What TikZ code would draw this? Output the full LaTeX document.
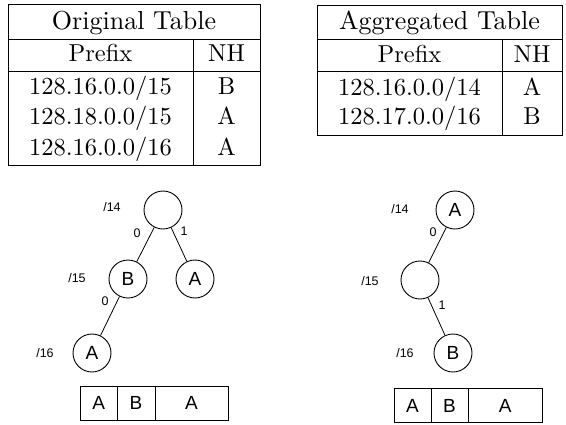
\documentclass[tikz,border=0pt]{standalone}
\usepackage{fontspec}
\newfontfamily\helv{Liberation Sans}
\newfontfamily\cmten{lmroman10-regular.otf}
\begin{document}
\begin{tikzpicture}[x=1pt,y=-1pt,
  rule/.style={line width=1pt},
  tabtext/.style={font=\cmten\fontsize{24.5}{28}\selectfont, inner sep=0pt, anchor=base},
  tabtitle/.style={font=\cmten\fontsize{26}{30}\selectfont, inner sep=0pt, anchor=base},
  trienode/.style={draw, circle, minimum size=38pt, inner sep=0pt, line width=0.9pt,
    font=\helv\fontsize{19}{22}\selectfont},
  lvl/.style={font=\helv\fontsize{12.5}{14}\selectfont, inner sep=0pt},
  bit/.style={font=\helv\fontsize{12.5}{14}\selectfont, inner sep=0pt},
  cell/.style={font=\helv\fontsize{19}{22}\selectfont, inner sep=0pt},
  edge/.style={line width=0.8pt},
  arr/.style={line width=0.8pt}]
\useasboundingbox (0,0) rectangle (566,424);

% ---- Original table ----
\draw[rule] (8,4) rectangle (260,165);
\draw[rule] (8,39) -- (260,39);
\draw[rule] (8,71) -- (260,71);
\draw[rule] (193,39) -- (193,165);
\node[tabtitle] (ot) at (134,29) {Original Table};
\node[tabtext] (op) at (100.5,61.7) {Prefix};
\node[tabtext] (on) at (226.5,61.7) {NH};
\node[tabtext] (o1p) at (100.5,94.3) {128.16.0.0/15};
\node[tabtext] (o1n) at (226.5,94.3) {B};
\node[tabtext] (o2p) at (100.5,124.5) {128.18.0.0/15};
\node[tabtext] (o2n) at (226.5,124.5) {A};
\node[tabtext] (o3p) at (100.5,155.7) {128.16.0.0/16};
\node[tabtext] (o3n) at (226.5,155.7) {A};

% ---- Aggregated table ----
\draw[rule] (317,5) rectangle (562,135);
\draw[rule] (317,39) -- (562,39);
\draw[rule] (317,71) -- (562,71);
\draw[rule] (502,39) -- (502,135);
\node[tabtitle] (at) at (439.5,29) {Aggregated Table};
\node[tabtext] (ap) at (409.5,62) {Prefix};
\node[tabtext] (an) at (532,62) {NH};
\node[tabtext] (a1p) at (409.5,95) {128.16.0.0/14};
\node[tabtext] (a1n) at (532,95) {A};
\node[tabtext] (a2p) at (409.5,124.5) {128.17.0.0/16};
\node[tabtext] (a2n) at (532,124.5) {B};

% ---- Original trie ----
\node[trienode] (l14) at (163,210) {};
\node[trienode] (l15) at (128,279) {B};
\node[trienode] (r15) at (195,279) {A};
\node[trienode] (l16) at (92,353) {A};
\draw[edge] (l14) -- (l15);
\draw[edge] (l14) -- (r15);
\draw[edge] (l15) -- (l16);
\node[lvl] (ll14) at (112,207) {/14};
\node[lvl] (ll15) at (77,278) {/15};
\node[lvl] (ll16) at (45,353) {/16};
\node[bit] (lb0) at (137,233) {0};
\node[bit] (lb1) at (184,231) {1};
\node[bit] (lb2) at (105,301) {0};

% ---- Aggregated trie ----
\node[trienode] (m14) at (455,210) {A};
\node[trienode] (m15) at (420,280) {};
\node[trienode] (m16) at (453,353) {B};
\draw[edge] (m14) -- (m15);
\draw[edge] (m15) -- (m16);
\node[lvl] (ml14) at (400,209) {/14};
\node[lvl] (ml15) at (370,281) {/15};
\node[lvl] (ml16) at (405,353) {/16};
\node[bit] (mb0) at (433,232) {0};
\node[bit] (mb1) at (442,305) {1};

% ---- Expanded arrays ----
\draw[arr] (80.5,386) rectangle (228,420.5);
\draw[arr] (117,386) -- (117,420.5);
\draw[arr] (155,386) -- (155,420.5);
\node[cell] (lc1) at (98.75,403) {A};
\node[cell] (lc2) at (136,403) {B};
\node[cell] (lc3) at (191.5,403) {A};

\draw[arr] (394,388.5) rectangle (542.5,422.5);
\draw[arr] (431,388.5) -- (431,422.5);
\draw[arr] (468,388.5) -- (468,422.5);
\node[cell] (rc1) at (412.5,405.5) {A};
\node[cell] (rc2) at (449.5,405.5) {B};
\node[cell] (rc3) at (505.25,405.5) {A};
\end{tikzpicture}
\end{document}
